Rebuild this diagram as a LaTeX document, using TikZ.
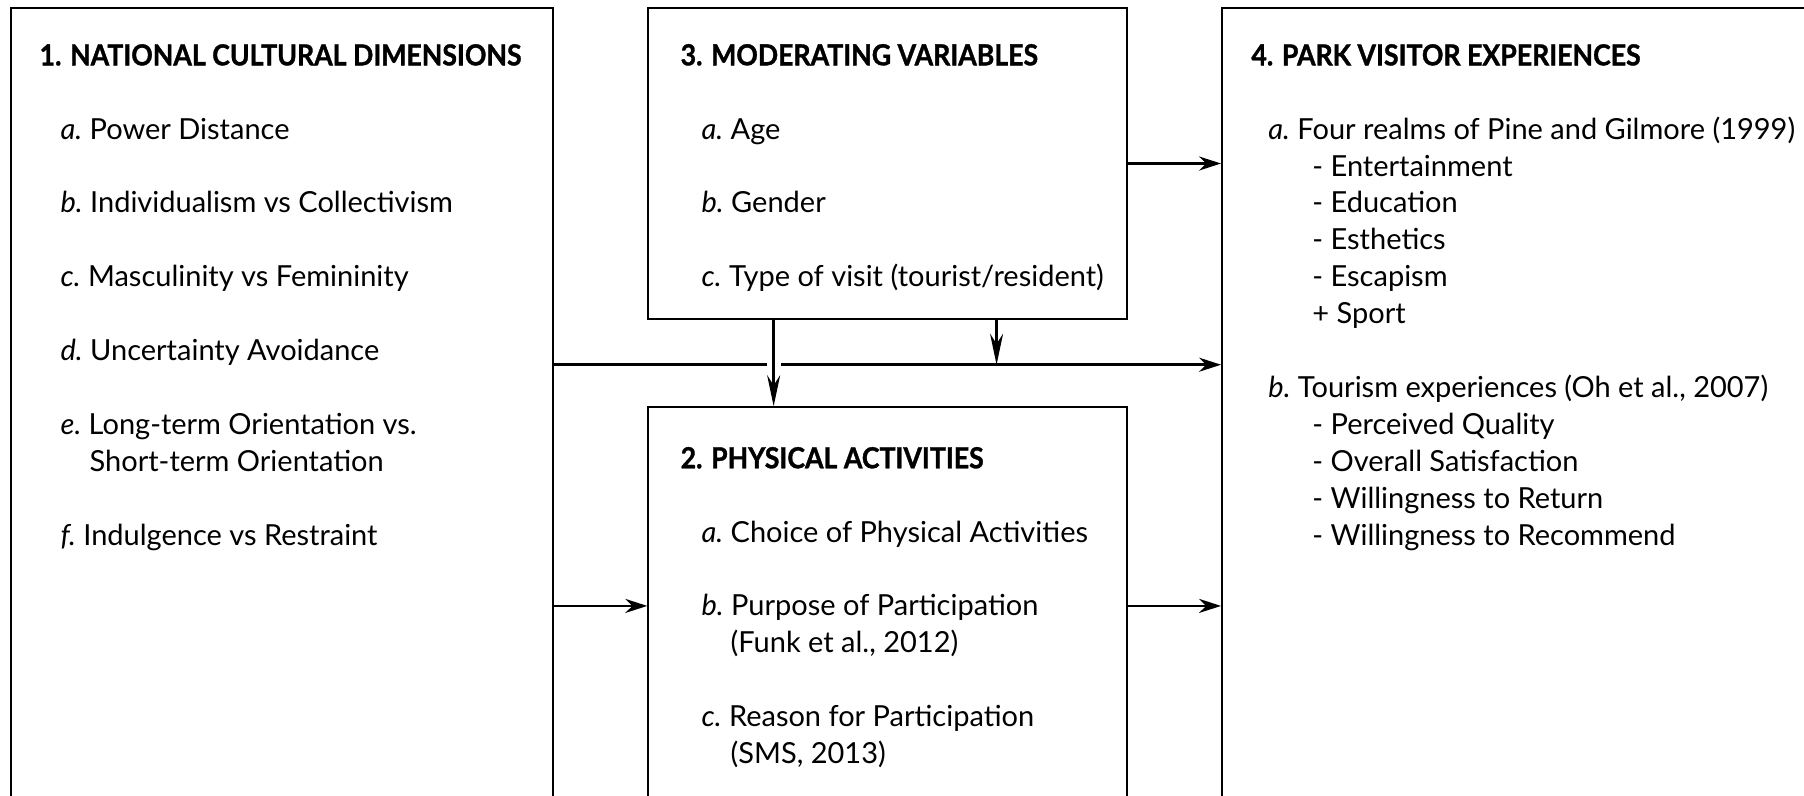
\documentclass[tikz,border=0pt]{standalone}
\usepackage{fontspec}
\setmainfont{Lato}
\newfontfamily\headfont{Lato}[FakeStretch=0.92, BoldFeatures={FakeBold=1.2}]
\usetikzlibrary{arrows.meta, positioning, calc}

\newcommand{\gap}{\\[21pt]}
\newcommand{\itm}[1]{\hspace*{0.42cm}\textit{#1}\ }
\newcommand{\cont}{\hspace*{1cm}}
\newcommand{\subitm}{\hspace*{1.22cm}}
\newcommand{\head}[1]{{\headfont\bfseries #1}}

\begin{document}
\begin{tikzpicture}[x=0.02cm, y=-0.02cm, >={Stealth[length=0.44cm, width=0.28cm]},
    panel/.style={draw, rectangle, line width=0.85pt, inner sep=0pt},
    txt/.style={inner sep=0pt, anchor=north west, align=left, font=\fontsize{16.5}{21}\selectfont},
    link/.style={->, line width=1.6pt},
    droplink/.style={-{Stealth[length=0.62cm, width=0.26cm]}, line width=1.6pt}]
    \useasboundingbox (0,0) rectangle (1804,795);
    \clip (0,0) rectangle (1804,795);

    % the four boxes
    \node[panel, minimum width=10.84cm, minimum height=16.24cm] (cult) at (282,414) {};
    \node[panel, minimum width=9.58cm, minimum height=6.22cm] (mod) at (887.5,163.5) {};
    \node[panel, minimum width=9.58cm, minimum height=7.96cm, below of=mod, node distance=8.85cm] (act) {};
    \node[panel, minimum width=12.16cm, minimum height=16.24cm, right of=cult, node distance=24.88cm] (park) {};

    % box contents
    \node[txt] (culttxt) at ([shift={(29,36.5)}]cult.north west)
        {\head{1. NATIONAL CULTURAL DIMENSIONS}\gap
         \itm{a.}Power Distance\gap
         \itm{b.}Individualism vs Collectivism\gap
         \itm{c.}Masculinity vs Femininity\gap
         \itm{d.}Uncertainty Avoidance\gap
         \itm{e.}Long-term Orientation vs.\\
         \cont Short-term Orientation\gap
         \itm{f.}Indulgence vs Restraint};
    \node[txt] (modtxt) at ([shift={(33,36.5)}]mod.north west)
        {\head{3. MODERATING VARIABLES}\gap
         \itm{a.}Age\gap
         \itm{b.}Gender\gap
         \itm{c.}Type of visit (tourist/resident)};
    \node[txt] (acttxt) at ([shift={(33,40.5)}]act.north west)
        {\head{2. PHYSICAL ACTIVITIES}\gap
         \itm{a.}Choice of Physical Activities\gap
         \itm{b.}Purpose of Participation\\
         \cont (Funk et al., 2012)\gap
         \itm{c.}Reason for Participation\\
         \cont (SMS, 2013)};
    \node[txt] (parktxt) at ([shift={(30,36.5)}]park.north west)
        {\head{4. PARK VISITOR EXPERIENCES}\gap
         \hspace*{0.34cm}\textit{a.}\ Four realms of Pine and Gilmore (1999)\\
         \subitm - Entertainment\\
         \subitm - Education\\
         \subitm - Esthetics\\
         \subitm - Escapism\\
         \subitm + Sport\gap
         \hspace*{0.34cm}\textit{b.}\ Tourism experiences (Oh et al., 2007)\\
         \subitm - Perceived Quality\\
         \subitm - Overall Satisfaction\\
         \subitm - Willingness to Return\\
         \subitm - Willingness to Recommend};

    % connectors
    \coordinate (dropA) at ($(mod.south west)!0.263!(mod.south east)$);
    \coordinate (meet) at ($(mod.south west)!0.727!(mod.south east)+(0,45)$);

    \draw[link] (mod.east) -- (park.west |- mod.east);
    \draw[link] (cult.east |- meet) -- (park.west |- meet);
    \draw[droplink] (mod.south -| meet) -- (meet);
    \fill[white] ($(dropA |- meet)+(-7,-5)$) rectangle ($(dropA |- meet)+(7,5)$);
    \draw[droplink] (dropA) -- (act.north -| dropA);
    \draw[link] (cult.east |- act.west) -- (act.west);
    \draw[link] (act.east) -- (park.west |- act.east);
\end{tikzpicture}
\end{document}
